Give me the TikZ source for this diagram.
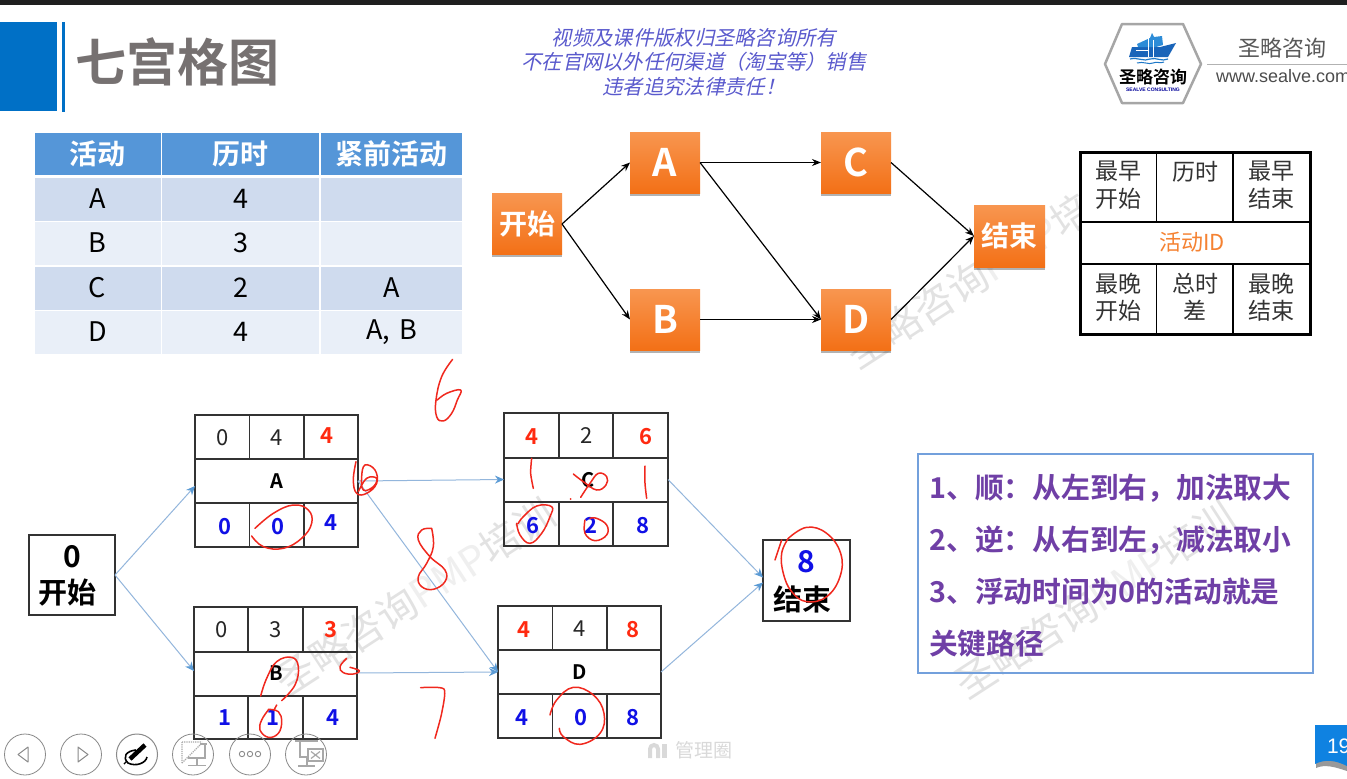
\documentclass[tikz,border=0pt]{standalone}
\usepackage{fontspec}
\usetikzlibrary{arrows.meta,shadows,calc}
\setmainfont{Noto Sans CJK SC}[BoldFont={Noto Sans CJK SC Bold}]
\newfontfamily\slantfont[FakeSlant=0.22]{Noto Sans CJK SC}
\newfontfamily\wwwfont{Liberation Sans}
\newcommand\fs[1]{\fontsize{#1}{#1}\selectfont}
\definecolor{inkred}{HTML}{F0281E}
\definecolor{numred}{HTML}{FF2A10}
\definecolor{numblue}{HTML}{1010E6}
\definecolor{headblue}{HTML}{5596D8}
\definecolor{rowdark}{HTML}{CFDBEE}
\definecolor{rowlight}{HTML}{E9EFF8}
\definecolor{slideblue}{HTML}{0070C6}
\definecolor{titlegray}{HTML}{767171}
\definecolor{linkblue}{HTML}{93B6DC}
\definecolor{tipblue}{HTML}{5B9BD5}
\definecolor{stampgray}{HTML}{E2E2E2}
\definecolor{stamplight}{HTML}{EFEFEF}
\definecolor{notepurple}{HTML}{6F3FA6}
\definecolor{toolgray}{HTML}{8A8A8A}
\definecolor{iconblue}{HTML}{A8A8A8}
\definecolor{shipdark}{RGB}{25,100,185}
\definecolor{shiplight}{RGB}{45,140,215}
\definecolor{wavecolor}{RGB}{30,120,200}
\definecolor{flagblue}{RGB}{15,130,225}
\definecolor{noticeblue}{RGB}{90,90,205}
\definecolor{idorange}{RGB}{245,130,50}
\definecolor{noteframe}{RGB}{115,160,220}
\definecolor{boxtop}{RGB}{248,150,80}
\definecolor{boxbottom}{RGB}{243,112,22}
\tikzset{
  x=1pt,y=-1pt,
  every node/.style={inner sep=0pt,outer sep=0pt},
  headcell/.style={fill=headblue,text=white,font=\fs{28}\bfseries,minimum height=42pt},
  darkcell/.style={fill=rowdark,text=black,font=\fs{27},minimum height=43pt},
  lightcell/.style={fill=rowlight,text=black,font=\fs{27},minimum height=43pt},
  orangebox/.style={top color=boxtop,bottom color=boxbottom,
    text=white,font=\fs{38}\bfseries,minimum width=70pt,minimum height=61pt,
    drop shadow={shadow xshift=0pt,shadow yshift=-2.5pt,opacity=.3,fill=black}},
  orangeword/.style={orangebox,font=\fs{28}\bfseries},
  blackarrow/.style={draw=black,line width=1.2pt,-{Stealth[length=9pt,width=7pt]}},
  bluearrow/.style={draw=linkblue,line width=1pt,-{Stealth[length=9pt,width=8pt,color=tipblue]}},
  gridbox/.style={draw=black!80,line width=1.5pt},
  gridline/.style={draw=black!80,line width=1.3pt},
  plainnum/.style={font=\fs{22},text=black!85},
  rednum/.style={font=\fs{22}\bfseries,text=numred},
  bluenum/.style={font=\fs{22}\bfseries,text=numblue},
  idtext/.style={font=\fs{20}\bfseries,text=black},
  legendtext/.style={font=\fontsize{23}{27.5}\selectfont,text=black!80,align=center,anchor=north},
  notetext/.style={font=\fs{28.75}\bfseries,text=notepurple,anchor=west},
  stamp/.style={font=\fs{40},text=stampgray,rotate=33},
  ink/.style={draw=inkred,line width=1.5pt,line cap=round,line join=round},
  toolring/.style={draw=toolgray,line width=.8pt},
  toolicon/.style={draw=iconblue,line width=1.2pt},
  zoomA/.style={shift={(0,350)},x=.33333pt,y=-.33333pt},
  zoomB/.style={shift={(420,350)},x=.33333pt,y=-.33333pt},
}
\newcommand\sevenbox[9]{% name x0 y0 x1 y1 r1 r2 c1 c2
  \node[gridbox,minimum width=#4pt-#2pt,minimum height=#5pt-#3pt] (#1) at ({(#2+#4)/2},{(#3+#5)/2}) {};
  \draw[gridline] (#2,#6) -- (#4,#6);
  \draw[gridline] (#2,#7) -- (#4,#7);
  \draw[gridline] (#8,#3) -- (#8,#6);
  \draw[gridline] (#9,#3) -- (#9,#6);
  \draw[gridline] (#8,#7) -- (#8,#5);
  \draw[gridline] (#9,#7) -- (#9,#5);
}
\newcommand\stampword{圣略咨询\textcolor{stamplight}{PMP}培训}
\begin{document}
\begin{tikzpicture}
\useasboundingbox (0,0) rectangle (1347,779);
\clip (0,0) rectangle (1347,779);
\fill[white] (0,0) rectangle (1347,779);
% watermarks
\node[stamp] (stampOne) at (415,597) {\stampword};
\node[stamp] (stampTwo) at (986,270) {\stampword};
\node[stamp] (stampThree) at (1095,600) {\stampword};
% top bar and title
\fill[black!88] (0,0) rectangle (1347,5);
\fill[slideblue] (0,22) rectangle (57,111);
\fill[slideblue] (62,22) rectangle (65,112);
\node[font=\fs{51}\bfseries,text=titlegray,anchor=west] (title) at (75,62) {七宫格图};
\node[font=\slantfont\fontsize{20.3}{24.5}\selectfont,text=noticeblue,align=center] (notice) at (694,62)
  {视频及课件版权归圣略咨询所有\\不在官网以外任何渠道（淘宝等）销售\\违者追究法律责任！};
% logo
\draw[draw=black!35,line width=2.5pt,line join=round,fill=white] (1105,64) -- (1122,24) -- (1183,24) -- (1201,64) -- (1183,103) -- (1122,103) -- cycle;
\fill[shipdark] (1129,57) -- (1132,47) -- (1150,47) -- (1160,47) -- (1176,43) -- (1168,57) -- cycle;
\fill[shiplight] (1137,44) -- (1150,38) -- (1152,33) -- (1154,37) -- (1162,36) -- (1163,45) -- (1156,47) -- (1138,47) -- cycle;
\draw[white,line width=1pt] (1148,37) -- (1148,57) (1153,40) -- (1153,57) (1136,50) -- (1148,50);
\draw[wavecolor,line width=1.2pt] (1130,59) .. controls (1138,57) and (1144,62) .. (1150,59) .. controls (1156,57) and (1162,62) .. (1168,59);
\draw[wavecolor,line width=1pt] (1137,63) .. controls (1143,61) and (1149,65) .. (1153,63) .. controls (1157,61) and (1160,64) .. (1164,62);
\node[font=\fs{17}\bfseries,text=black] (logoName) at (1153,77) {圣略咨询};
\node[font=\wwwfont\fs{5}\bfseries,text=blue!60!black] (logoSub) at (1153,90) {SEALVE CONSULTING};
\node[font=\fs{22},text=black!65] (brand) at (1282,48) {圣略咨询};
\draw[black!30,line width=.8pt] (1207,64) -- (1347,64);
\node[font=\wwwfont\fs{18},text=black!70,anchor=west] (site) at (1216,76) {www.sealve.com};
% table
\node[headcell,minimum width=126pt] (h1) at (97.5,153.5) {活动};
\node[headcell,minimum width=157pt] (h2) at (240.5,153.5) {历时};
\node[headcell,minimum width=141pt] (h3) at (391.5,153.5) {紧前活动};
\node[darkcell,minimum width=126pt] (a1) at (97.5,199) {A};
\node[darkcell,minimum width=157pt] (a2) at (240.5,199) {4};
\node[darkcell,minimum width=141pt] (a3) at (391.5,199) {};
\node[lightcell,minimum width=126pt] (b1) at (97.5,243) {B};
\node[lightcell,minimum width=157pt] (b2) at (240.5,243) {3};
\node[lightcell,minimum width=141pt] (b3) at (391.5,243) {};
\node[darkcell,minimum width=126pt] (c1) at (97.5,288) {C};
\node[darkcell,minimum width=157pt] (c2) at (240.5,288) {2};
\node[darkcell,minimum width=141pt] (c3) at (391.5,288) {A};
\node[lightcell,minimum width=126pt] (d1) at (97.5,332) {D};
\node[lightcell,minimum width=157pt] (d2) at (240.5,332) {4};
\node[lightcell,minimum width=141pt] (d3) at (391.5,332) {A, \hspace{3pt}B};
% top network
\node[orangeword] (tS) at (527,224) {开始};
\node[orangebox] (tA) at (665,162.5) {A};
\node[orangebox] (tC) at (856,162.5) {C};
\node[orangebox] (tB) at (665,319.5) {B};
\node[orangebox] (tD) at (856,319.5) {D};
\node[orangeword,minimum width=71pt,minimum height=62pt] (tE) at (1009.5,236) {结束};
\draw[blackarrow] (tS.east) -- (tA.west);
\draw[blackarrow] (tS.east) -- (tB.west);
\draw[blackarrow] (tA.east) -- (tC.west);
\draw[blackarrow] (tA.east) -- (tD.west);
\draw[blackarrow] (tB.east) -- (tD.west);
\draw[blackarrow] (tC.east) -- (tE.west);
\draw[blackarrow] (tD.east) -- (tE.west);
% legend box
\node[draw=black,line width=3pt,fill=white,minimum width=230pt,minimum height=182pt] (legend) at (1195,243) {};
\draw[gridline,draw=black] (1080,222) -- (1310,222);
\draw[gridline,draw=black] (1080,264) -- (1310,264);
\draw[gridline,draw=black] (1156.5,152) -- (1156.5,222);
\draw[gridline,draw=black] (1233,152) -- (1233,222);
\draw[gridline,draw=black] (1156.5,264) -- (1156.5,334);
\draw[gridline,draw=black] (1233,264) -- (1233,334);
\node[legendtext] (l1) at (1118,161) {最早\\开始};
\node[legendtext] (l2) at (1195,161) {历时};
\node[legendtext] (l3) at (1271,161) {最早\\结束};
\node[font=\fs{22},text=idorange] (l4) at (1192,242) {活动ID};
\node[legendtext] (l5) at (1118,273) {最晚\\开始};
\node[legendtext] (l6) at (1195,273) {总时\\差};
\node[legendtext] (l7) at (1271,273) {最晚\\结束};
% lower network
\sevenbox{boxA}{195}{415}{358}{547}{459}{503}{249.5}{304}
\sevenbox{boxB}{194}{607}{357}{739}{652}{696}{248}{303}
\sevenbox{boxC}{504}{413}{668}{546}{458}{502}{559}{613}
\sevenbox{boxD}{498}{606}{661}{738}{650}{694}{552.5}{607}
\node[gridbox] (startBox) [minimum width=86pt,minimum height=80pt] at (72,575) {};
\node[gridbox] (endBox) [minimum width=87pt,minimum height=81pt] at (806.5,580.5) {};
\node[font=\fs{30}\bfseries,text=black] (s0) at (72,557) {0};
\node[font=\fs{29}\bfseries,text=black] (s1) at (67,593) {开始};
\node[font=\fs{30}\bfseries,text=numblue] (e0) at (806,562) {8};
\node[font=\fs{29}\bfseries,text=black] (e1) at (802,599) {结束};
\draw[bluearrow] (startBox.east) -- ([yshift=-5pt]boxA.west);
\draw[bluearrow] (startBox.east) -- ([yshift=2pt]boxB.west);
\draw[bluearrow] (boxA.east) -- (boxC.west);
\draw[bluearrow] (boxA.east) -- (boxD.west);
\draw[bluearrow] (boxB.east) -- (boxD.west);
\draw[bluearrow] (boxC.east) -- ([yshift=3pt]endBox.west);
\draw[bluearrow] (boxD.east) -- ([yshift=-2pt]endBox.west);
% numbers
\begin{scope}[shift={(1,0.5)}]
\node[plainnum] (A1) at (222,437) {0};
\node[plainnum] (A2) at (276,437) {4};
\node[rednum] (A3) at (326,435) {4};
\node[idtext] (A4) at (276,481) {A};
\node[bluenum] (A5) at (224,526) {0};
\node[bluenum] (A6) at (277,526) {0};
\node[bluenum] (A7) at (329.5,522) {4};
\node[plainnum] (B1) at (221,629) {0};
\node[plainnum] (B2) at (275,629) {3};
\node[rednum] (B3) at (330,629) {3};
\node[idtext] (B4) at (275,673) {B};
\node[bluenum] (B5) at (224,717) {1};
\node[bluenum] (B6) at (272,717) {1};
\node[bluenum] (B7) at (332,717) {4};
\node[rednum] (C1) at (531,436) {4};
\node[plainnum] (C2) at (586,435) {2};
\node[rednum] (C3) at (645,436) {6};
\node[idtext] (C4) at (587,480) {C};
\node[bluenum] (C5) at (532,525) {6};
\node[bluenum] (C6) at (590,525) {2};
\node[bluenum] (C7) at (642,525) {8};
\node[rednum] (D1) at (523,629) {4};
\node[plainnum] (D2) at (579,628) {4};
\node[rednum] (D3) at (632,629) {8};
\node[idtext] (D4) at (579,672) {D};
\node[bluenum] (D5) at (521,717) {4};
\node[bluenum] (D6) at (580,717) {0};
\node[bluenum] (D7) at (632,717) {8};
\end{scope}
% note box
\node[draw=noteframe,line width=1.2pt,minimum width=395pt,minimum height=219pt] (noteBox) at (1115.5,563.5) {};
\node[notetext] (n1) at (929.5,488) {1、顺：从左到右，加法取大};
\node[notetext] (n2) at (929.5,540) {2、逆：从右到左，减法取小};
\node[notetext] (n3) at (929.5,592) {3、浮动时间为0的活动就是};
\node[notetext] (n4) at (929,644) {关键路径};
% handwriting
\begin{scope}[zoomA]
\draw[ink] plot[smooth,tension=.7] coordinates {(1358,28)(1325,80)(1308,150)(1310,200)(1330,213)(1355,190)(1372,150)(1382,120)(1340,130)(1312,150)};
\draw[ink] plot[smooth,tension=.7] coordinates {(1068,335)(1060,390)(1070,430)(1100,430)(1130,400)(1125,360)(1095,345)(1085,380)(1090,420)(1120,410)(1130,385)(1100,385)(1075,425)};
\draw[ink] plot[smooth,tension=.7] coordinates {(1295,535)(1265,540)(1255,570)(1290,620)(1335,660)(1335,695)(1300,718)(1265,710)(1255,680)(1280,640)(1300,590)(1295,535)};
\draw[ink] plot[smooth,tension=.7] coordinates {(765,535)(820,490)(880,465)(925,480)(935,520)(905,565)(850,595)(790,590)(755,558)};
\draw[ink] plot[smooth,tension=.7] coordinates {(782,1038)(800,985)(830,935)(875,922)(895,950)(885,1005)(845,1052)};
\draw[ink] (830,1065) -- (822,1080);
\draw[ink] plot[smooth,tension=.7] coordinates {(805,1080)(785,1110)(780,1140)(805,1162)(835,1150)(845,1115)(835,1085)(805,1078)};
\draw[ink] plot[smooth,tension=.7] coordinates {(1040,925)(1020,950)(1030,968)(1060,972)(1078,962)(1050,952)};
\draw[ink] plot[smooth,tension=.4] coordinates {(1262,1013)(1332,1017)(1325,1090)(1305,1165)};
\end{scope}
\begin{scope}[zoomB]
\draw[ink] plot[smooth] coordinates {(335,325)(332,370)(340,415)};
\draw[ink] plot[smooth] coordinates {(675,348)(675,400)(680,445)};
\draw[ink] plot[smooth,tension=.7] coordinates {(460,372)(490,395)(530,420)(558,405)(560,380)(535,370)(510,400)(482,442)};
\fill[inkred] (452,447) circle (3);
\draw[ink] plot[smooth,tension=.7] coordinates {(290,520)(300,555)(330,580)(365,550)(390,500)(395,470)(350,468)(310,500)(295,520)};
\draw[ink] plot[smooth,tension=.7] coordinates {(495,510)(495,550)(525,572)(560,555)(560,525)(530,505)(510,505)};
\draw[ink] plot[smooth,tension=.7] coordinates {(390,1095)(410,1050)(460,1012)(520,1035)(552,1090)(540,1150)(480,1183)(430,1160)(418,1135)};
\draw[ink] (1085,570) -- (1065,630);
\draw[ink] plot[smooth,tension=.7] coordinates {(1105,565)(1160,532)(1220,550)(1262,610)(1260,680)(1220,740)(1160,755)(1115,725)(1090,670)(1085,610)(1105,565)};
\end{scope}
% toolbar
\draw[toolring] (25,754.5) circle (20.5);
\draw[toolring] (81,754.5) circle (20.5);
\draw[toolring,line width=1pt] (137,754.5) circle (20.5);
\draw[toolring] (193,754.5) circle (20.5);
\draw[toolring] (250,754.5) circle (20.5);
\draw[toolring] (306,754.5) circle (20.5);
\draw[toolgray,line width=1pt,line join=round] (28,747) -- (18,754.5) -- (28,762) -- cycle;
\draw[toolgray,line width=1pt,line join=round] (78,747) -- (88,754.5) -- (78,762) -- cycle;
% pen icon
\draw[black,line width=4.5pt] (130,759) -- (145,745);
\draw[black,line width=1.4pt] (127,761) -- (124,764);
\draw[black,line width=1.6pt] (136,750) .. controls (126,751) and (122,757) .. (128,763) .. controls (136,767) and (146,763) .. (147,757);
% pointer/desk icon
\draw[iconblue,line width=1.2pt,densely dotted] (182,742) -- (202,742) (182,742) -- (182,763) (182,763) -- (200,745);
\draw[toolicon] (200,744) -- (207,744) (205,744) -- (205,757) (188,758) -- (206,758) (197,758) -- (197,765) (188,765.5) -- (206,765.5);
% dots icon
\draw[toolgray,line width=.9pt] (242,754) circle (2.7) (250,754) circle (2.7) (258,754) circle (2.7);
% close icon
\draw[toolicon] (295,741) -- (318,741) (300,741) -- (300,757) -- (310,757) (307,758) -- (307,765) (298,766) -- (315,766);
\draw[toolicon,fill=white] (308,749) rectangle (323,761);
\draw[toolicon] (311,751.5) -- (320,758.5) (320,751.5) -- (311,758.5);
% footer mark
\draw[black!15,line width=4pt] (650,758) -- (650,749) arc (180:360:4) -- (658,758);
\fill[black!15] (662,744) rectangle (667,758);
\node[font=\fs{19},text=black!15,anchor=west] (footer) at (675,750) {管理圈};
% page flag
\fill[black!40] (1316,768) .. controls (1325,764) and (1335,767) .. (1347,771) -- (1347,762) -- (1316,758) -- cycle;
\fill[flagblue] (1315,725) -- (1347,725) -- (1347,766) .. controls (1335,760) and (1325,759) .. (1315,764) -- cycle;
\node[font=\wwwfont\fs{21},text=white,anchor=west] (pageNo) at (1327,746) {19};
\end{tikzpicture}
\end{document}
